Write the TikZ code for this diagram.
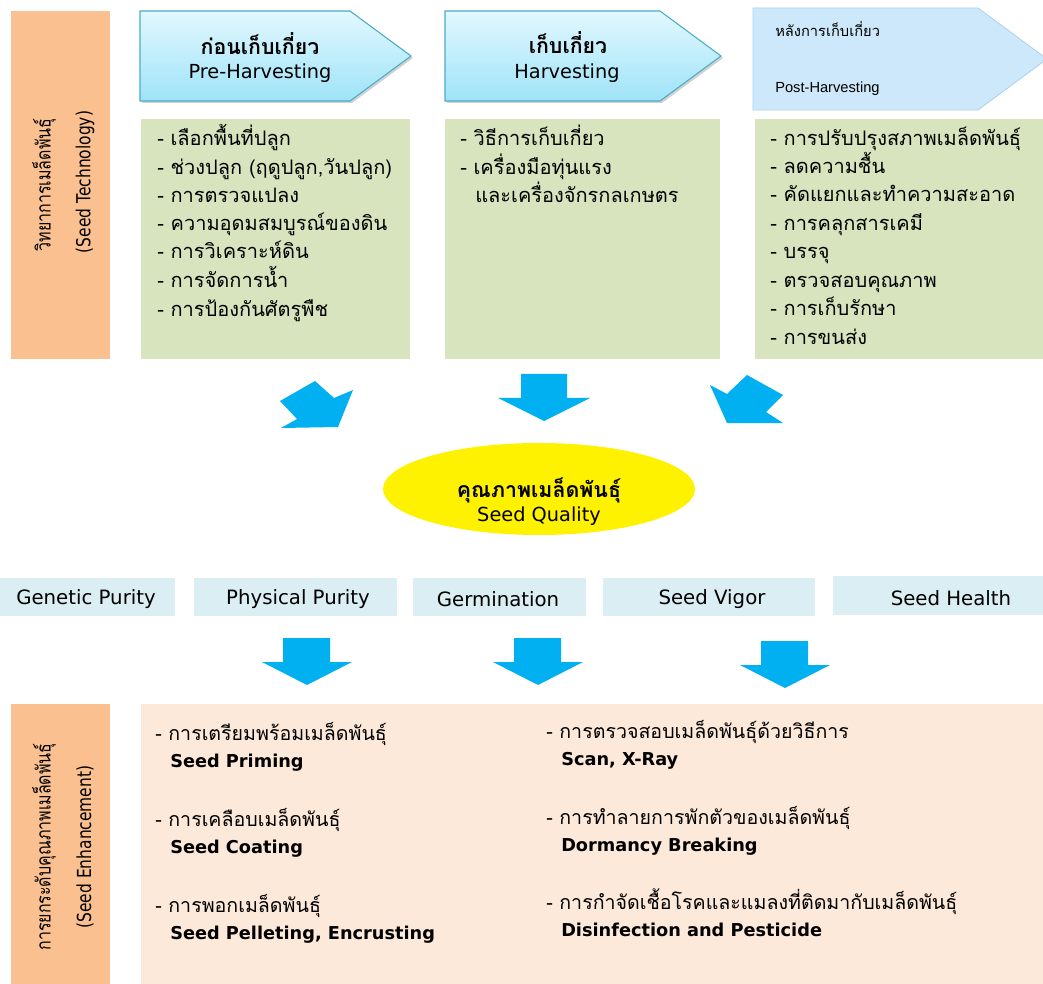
\documentclass[tikz,border=0pt]{standalone}
\usepackage{fontspec}
\setmainfont{DejaVu Sans}
\newfontfamily\thai[Script=Thai]{Loma}
\newfontfamily\thaicond[Script=Thai,FakeStretch=0.8]{Loma}
\newfontfamily\condsans[FakeStretch=0.8]{DejaVu Sans}
\newfontfamily\narrowf{Liberation Sans}
\definecolor{sideorange}{HTML}{FAC090}
\definecolor{boxgreen}{HTML}{D7E4BD}
\definecolor{qblue}{HTML}{DAEEF3}
\definecolor{peach}{HTML}{FDE9D9}
\definecolor{arrblue}{HTML}{00B0F0}
\definecolor{hdrtop}{HTML}{E2F8FE}
\definecolor{hdrbot}{HTML}{9FE3F8}
\definecolor{hdrline}{HTML}{4BACC6}
\definecolor{postfill}{HTML}{CCE8FA}
\definecolor{postline}{HTML}{A9D3EE}
\begin{document}
\begin{tikzpicture}[x=0.75pt,y=-0.75pt,
  thaitxt/.style={font=\thai\fontsize{15}{17}\selectfont, inner sep=0pt, anchor=mid west},
  thaibig/.style={font=\thai\fontsize{14.7}{17}\selectfont, inner sep=0pt, anchor=mid west},
  hdrthai/.style={font=\thai\bfseries\fontsize{16}{18}\selectfont, inner sep=0pt},
  hdreng/.style={font=\fontsize{14.5}{16}\selectfont, inner sep=0pt},
  qtxt/.style={font=\fontsize{14.8}{16}\selectfont, inner sep=0pt},
  engbold/.style={font=\bfseries\fontsize{13.3}{15}\selectfont, inner sep=0pt, anchor=mid west},
  sidethai/.style={font=\thaicond\fontsize{15}{17}\selectfont, inner sep=0pt, rotate=90},
  sideeng/.style={font=\condsans\fontsize{14.5}{17}\selectfont, inner sep=0pt, rotate=90},
  blockarrow/.style={fill=arrblue, draw=none},
  hdrshadow/.style={fill=black, opacity=0.18}]
\useasboundingbox (0,0) rectangle (1043,984);
\fill[white] (0,0) rectangle (1043,984);

% side bars
\fill[sideorange] (11,11) rectangle (110,359);
\fill[sideorange] (11,704) rectangle (110,984);
\node[sidethai] (stA) at (44,185) {วิทยาการเมล็ดพันธุ์};
\node[sideeng] (stB) at (85,182) {(Seed Technology)};
\node[sidethai] (seA) at (44,847) {การยกระดับคุณภาพเมล็ดพันธุ์};
\node[sideeng] (seB) at (85,847) {(Seed Enhancement)};

% header arrows
\fill[hdrshadow] (142,13) -- (352,13) -- (413,58) -- (352,103) -- (142,103) -- cycle;
\fill[hdrshadow] (447,13) -- (662,13) -- (723,58) -- (662,103) -- (447,103) -- cycle;
\shade[top color=hdrtop, bottom color=hdrbot, draw=hdrline, line width=0.8pt]
  (140,11) -- (350,11) -- (411,56) -- (350,101) -- (140,101) -- cycle;
\shade[top color=hdrtop, bottom color=hdrbot, draw=hdrline, line width=0.8pt]
  (445,11) -- (660,11) -- (721,56) -- (660,101) -- (445,101) -- cycle;
\begin{scope}
\clip (0,0) rectangle (1043,984);
\fill[postfill, draw=postline, line width=0.6pt]
  (753,8) -- (978,8) -- (1047,59) -- (978,110) -- (753,110) -- cycle;
\end{scope}
\node[hdrthai] (h1a) at (260,44) {ก่อนเก็บเกี่ยว};
\node[hdreng] (h1b) at (260,73) {Pre-Harvesting};
\node[hdrthai] (h2a) at (568,43) {เก็บเกี่ยว};
\node[hdreng] (h2b) at (567,73) {Harvesting};
\node[font=\thai\fontsize{11}{13}\selectfont, inner sep=0pt, anchor=mid west] (h3a) at (775,33) {หลังการเก็บเกี่ยว};
\node[font=\narrowf\fontsize{11}{13}\selectfont, inner sep=0pt, anchor=mid west] (h3b) at (775,89) {Post-Harvesting};

% green boxes
\fill[boxgreen] (141,119) rectangle (410,359);
\fill[boxgreen] (445,119) rectangle (720,359);
\fill[boxgreen] (755,119) rectangle (1043,359);

\node[thaitxt] (b1l1) at (157,142) {- เลือกพื้นที่ปลูก};
\node[thaitxt] (b1l2) at (157,171) {- ช่วงปลูก (ฤดูปลูก,วันปลูก)};
\node[thaitxt] (b1l3) at (157,199) {- การตรวจแปลง};
\node[thaitxt] (b1l4) at (157,227) {- ความอุดมสมบูรณ์ของดิน};
\node[thaitxt] (b1l5) at (157,255) {- การวิเคราะห์ดิน};
\node[thaitxt] (b1l6) at (157,284) {- การจัดการน้ำ};
\node[thaitxt] (b1l7) at (157,313) {- การป้องกันศัตรูพืช};

\node[thaitxt] (b2l1) at (460,142) {- วิธีการเก็บเกี่ยว};
\node[thaitxt] (b2l2) at (460,171) {- เครื่องมือทุ่นแรง};
\node[thaitxt] (b2l3) at (475,199) {และเครื่องจักรกลเกษตร};

\node[thaitxt] (b3l1) at (770,142) {- การปรับปรุงสภาพเมล็ดพันธุ์};
\node[thaitxt] (b3l2) at (770,170) {- ลดความชื้น};
\node[thaitxt] (b3l3) at (770,198) {- คัดแยกและทำความสะอาด};
\node[thaitxt] (b3l4) at (770,227) {- การคลุกสารเคมี};
\node[thaitxt] (b3l5) at (770,255) {- บรรจุ};
\node[thaitxt] (b3l6) at (770,284) {- ตรวจสอบคุณภาพ};
\node[thaitxt] (b3l7) at (770,312) {- การเก็บรักษา};
\node[thaitxt] (b3l8) at (770,341) {- การขนส่ง};

% arrows to seed quality
\fill[blockarrow] (280,401) -- (315,381) -- (334,398) -- (353,390) -- (338,427) -- (281,428) -- (297,419) -- cycle;
\fill[blockarrow] (521,374) -- (567,374) -- (567,398) -- (590,398) -- (544,421) -- (498,398) -- (521,398) -- cycle;
\fill[blockarrow] (710,385) -- (727,394) -- (747,375) -- (783,395) -- (766,412) -- (783,423) -- (727,423) -- cycle;

% seed quality ellipse
\fill[yellow] (539,489) ellipse [x radius=156, y radius=46];
\node[hdrthai] (sqa) at (539,490) {คุณภาพเมล็ดพันธุ์};
\node[hdreng] (sqb) at (539,516) {Seed Quality};

% quality boxes
\fill[qblue] (0,578) rectangle (175,616);
\fill[qblue] (194,578) rectangle (397,616);
\fill[qblue] (413,578) rectangle (586,616);
\fill[qblue] (603,578) rectangle (815,616);
\fill[qblue] (833,576) rectangle (1043,615);
\node[qtxt] (q1) at (86,599) {Genetic Purity};
\node[qtxt] (q2) at (298,599) {Physical Purity};
\node[qtxt] (q3) at (498,599) {Germination};
\node[qtxt] (q4) at (712,599) {Seed Vigor};
\node[qtxt] (q5) at (951,598) {Seed Health};

% arrows down
\fill[blockarrow] (283,638) -- (330,638) -- (330,662) -- (352,662) -- (307,685) -- (262,662) -- (283,662) -- cycle;
\fill[blockarrow] (514,638) -- (561,638) -- (561,662) -- (583,662) -- (538,685) -- (493,662) -- (514,662) -- cycle;
\fill[blockarrow] (761,641) -- (808,641) -- (808,665) -- (830,665) -- (785,688) -- (740,665) -- (761,665) -- cycle;

% enhancement box
\fill[peach] (141,704) rectangle (1043,984);
\node[thaibig] (e1a) at (155,737) {- การเตรียมพร้อมเมล็ดพันธุ์};
\node[engbold] (e1b) at (170,764) {Seed Priming};
\node[thaibig] (e2a) at (155,823) {- การเคลือบเมล็ดพันธุ์};
\node[engbold] (e2b) at (170,850) {Seed Coating};
\node[thaibig] (e3a) at (155,909) {- การพอกเมล็ดพันธุ์};
\node[engbold] (e3b) at (170,936) {Seed Pelleting, Encrusting};
\node[thaibig] (e4a) at (546,735) {- การตรวจสอบเมล็ดพันธุ์ด้วยวิธีการ};
\node[engbold] (e4b) at (561,762) {Scan, X-Ray};
\node[thaibig] (e5a) at (546,821) {- การทำลายการพักตัวของเมล็ดพันธุ์};
\node[engbold] (e5b) at (561,848) {Dormancy Breaking};
\node[thaibig] (e6a) at (546,906) {- การกำจัดเชื้อโรคและแมลงที่ติดมากับเมล็ดพันธุ์};
\node[engbold] (e6b) at (561,933) {Disinfection and Pesticide};
\end{tikzpicture}
\end{document}
